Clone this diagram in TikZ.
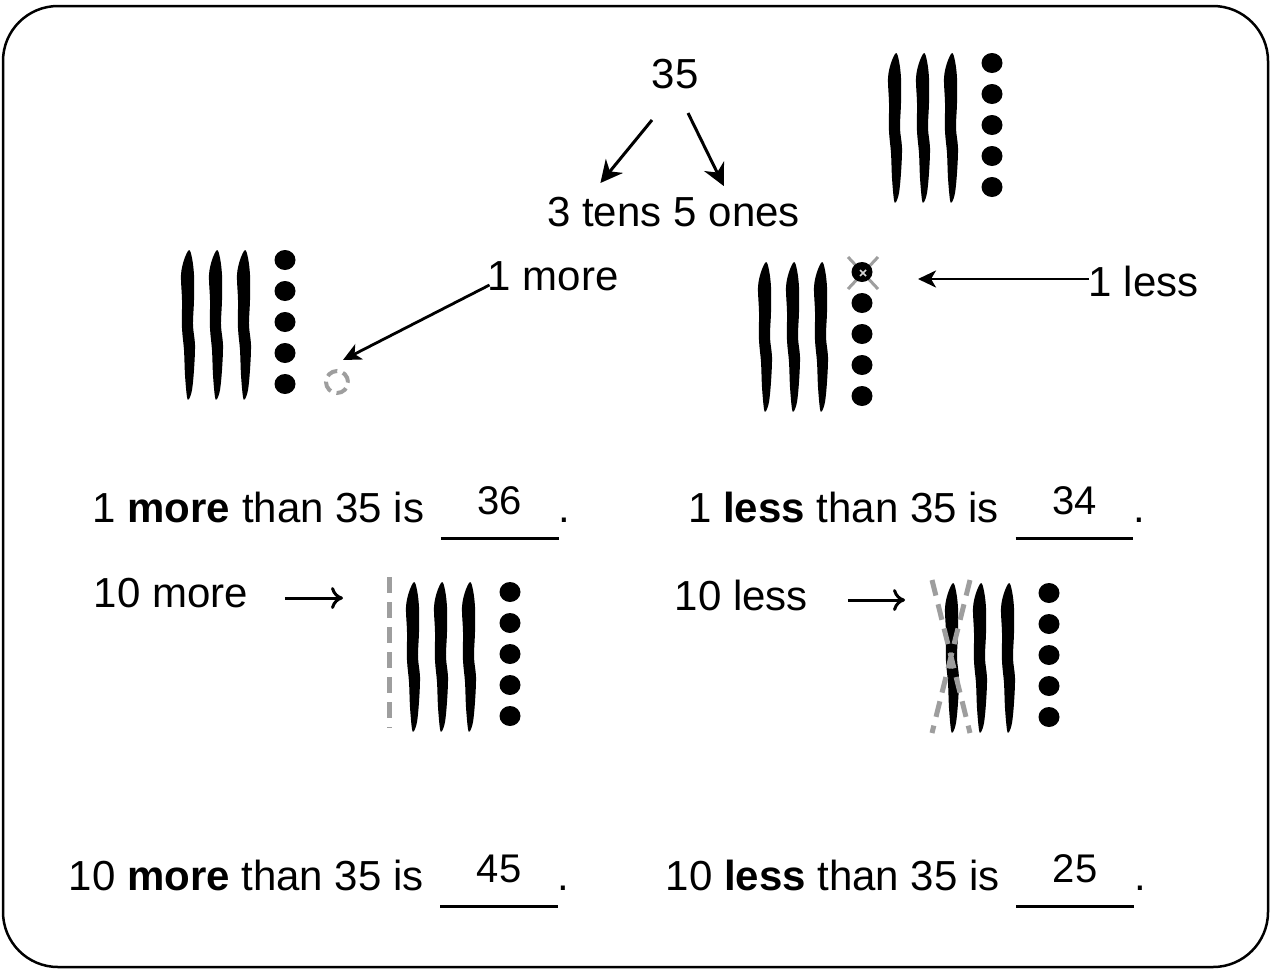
\documentclass[tikz,border=0pt]{standalone}
\usepackage{fontspec}
\setmainfont{Liberation Sans}
\usetikzlibrary{arrows.meta,positioning}

\definecolor{cutgray}{RGB}{158,158,158}
\newcommand{\ansblank}[1]{\makebox[0pt][l]{\rule[-0.42em]{2.8em}{0.07em}}\makebox[2.8em]{\raisebox{0.19em}{\fontsize{40}{44}\selectfont #1}}}

\tikzset{
  txt/.style={inner sep=0pt, font=\fontsize{42}{48}\selectfont},
  bigarr/.style={line width=3pt, -{Stealth[length=22pt,width=22pt,inset=7pt]}},
  arr/.style={line width=2.8pt, -{Stealth[length=18pt,width=17pt,inset=5pt]}},
  pointer/.style={line width=3pt, -{To[length=12pt,width=22pt]}},
  cut/.style={draw=cutgray, line width=5pt, dash pattern=on 16pt off 9pt},
  tensones/.pic={
    \foreach \sx in {0,28,56}
      \fill[shift={(\sx,0)}] plot[smooth cycle, tension=0.55] coordinates {(1,0) (4,8) (6,25) (6,50) (5,75) (7,95) (6,120) (4,140) (1,149) (-1,147) (-3,125) (-4,100) (-6,78) (-6,50) (-7,25) (-4,10)};
    \foreach \k [count=\i] in {10,41,72,103,134} {
      \fill (97,\k) ellipse [x radius=10.5, y radius=10];
      \coordinate (-d\i) at (97,\k);
    }
  }
}

\begin{document}
\begin{tikzpicture}[x=1pt,y=-1pt]
\useasboundingbox (0,0) rectangle (1271,970);
\draw[line width=2.5pt, rounded corners=55pt] (3,6) rectangle (1268,967);

% 35 = 3 tens 5 ones
\node[txt, anchor=base] (n35) at (675,88) {35};
\node[txt, anchor=base west] (tens) at (547,226) {3 tens};
\node[txt, base right=11.7pt of tens] (ones) {5 ones};
\draw[bigarr] ([xshift=-23pt,yshift=-32pt]n35.base) -- ([xshift=-4pt,yshift=43pt]tens.base);
\draw[bigarr] ([xshift=13pt,yshift=-25pt]n35.base) -- ([xshift=-13pt,yshift=40pt]ones.base);
\pic (grpA) at (895,53) {tensones};

% 1 more
\pic (grpB) at (188,250) {tensones};
\node[circle, draw=cutgray, line width=4pt, dash pattern=on 11pt off 6pt, minimum size=22pt, inner sep=0pt] (newone) at (337,382) {};
\node[txt, anchor=base west] (more1) at (487.5,290) {1 more};
\draw[arr] ([xshift=2pt,yshift=5pt]more1.base west) -- ([xshift=6pt,yshift=22pt]newone.center);

% 1 less
\coordinate (gone) at (863,273);
\draw[cutgray, line width=3pt] ([shift={(-15,-16)}]gone) -- ([shift={(15,16)}]gone)
  ([shift={(15,-16)}]gone) -- ([shift={(-15,16)}]gone);
\pic (grpC) at (765,262) {tensones};
\draw[cutgray!40, line width=1.5pt] ([shift={(-3,-3)}]gone) -- ([shift={(3,3)}]gone)
  ([shift={(3,-3)}]gone) -- ([shift={(-3,3)}]gone);
\node[txt, anchor=base west] (less1) at (1088.5,296) {1 less};
\draw[arr] ([yshift=17pt]less1.base west) -- ([xshift=55pt,yshift=-6pt]gone);

\node[txt, anchor=base west] (q1) at (92.4,522) {1 \textbf{more} than 35 is\hspace{0.4em}\ansblank{36}.};
\node[txt, anchor=base west] (q2) at (688,522) {1 \textbf{less} than 35 is\hspace{0.4em}\ansblank{34}.};

% 10 more
\coordinate (addten) at (389,577);
\draw[cut] (addten) -- ++(0,151);
\pic (grpD) at (413,582) {tensones};
\node[txt, anchor=base west] (more10) at (93.5,607) {10 more};
\draw[pointer] ([xshift=37pt,yshift=9pt]more10.base east) -- ([xshift=-46pt,yshift=-21pt]addten);

% 10 less
\pic (grpE) at (952,583) {tensones};
\coordinate (taketen) at (951,656);
\draw[cut] ([shift={(-19,-76)}]taketen) -- ([shift={(19,77)}]taketen)
  ([shift={(19,-76)}]taketen) -- ([shift={(-19,77)}]taketen);
\node[txt, anchor=base west] (less10) at (674.5,610) {10 less};
\draw[pointer] ([xshift=40pt,yshift=10pt]less10.base east) -- ([xshift=-46pt,yshift=56pt]taketen);

\node[txt, anchor=base west] (q3) at (68.5,890) {10 \textbf{more} than 35 is\hspace{0.4em}\ansblank{45}.};
\node[txt, anchor=base west] (q4) at (665.5,890) {10 \textbf{less} than 35 is\hspace{0.4em}\ansblank{25}.};
\end{tikzpicture}
\end{document}
